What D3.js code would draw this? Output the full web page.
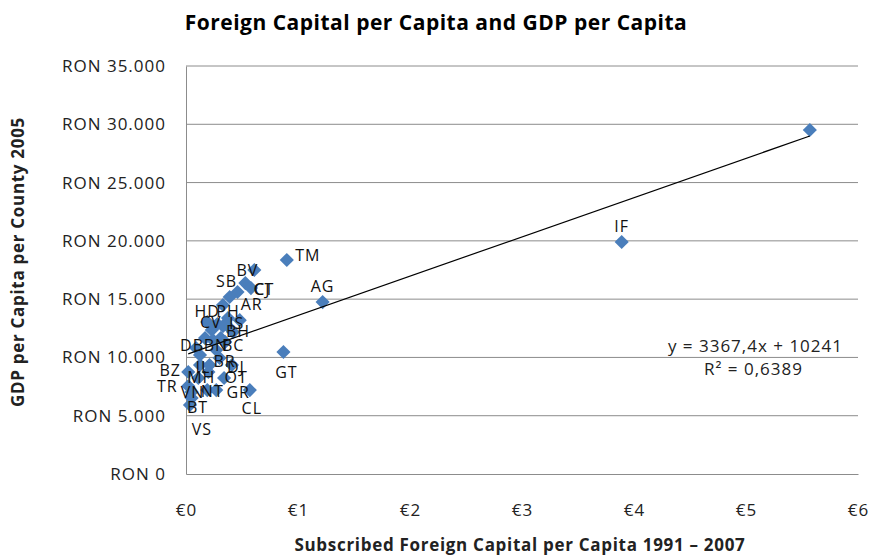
<!DOCTYPE html>
<html>
<head>
<meta charset="utf-8">
<script src="https://cdn.jsdelivr.net/npm/d3@7"></script>
<style>
  body { margin: 0; background: #fff; }
  text { font-family: "Open Sans", sans-serif; }
</style>
</head>
<body>
<div id="chart"></div>
<script>
// County codes, subscribed foreign capital per capita (EUR), GDP per capita (RON)
const counties = ["B", "IF", "AG", "TM", "GT", "CL", "BV", "CJ", "CT", "SB", "AR",
  "HD", "PH", "CV", "IS", "BH", "DB", "BN", "BC", "BR", "DJ", "IL", "MH", "OT",
  "VN", "NT", "GR", "BZ", "TR", "BT", "VS",
  "MS", "SJ", "HR", "AB", "CS", "SM", "MM", "SV", "TL", "VL"];
const capital = [5.57, 3.89, 1.22, 0.90, 0.87, 0.57, 0.61, 0.53, 0.58, 0.46, 0.39,
  0.19, 0.375, 0.23, 0.39, 0.42, 0.09, 0.24, 0.35, 0.30, 0.41, 0.125, 0.11, 0.34,
  0.05, 0.19, 0.27, 0.02, 0.02, 0.05, 0.035,
  0.33, 0.28, 0.33, 0.48, 0.17, 0.31, 0.27, 0.125, 0.21, 0.20];
const gdp = [29510, 19900, 14750, 18360, 10465, 7200, 17500, 16380, 15950, 15610, 15180,
  13040, 13380, 12350, 12520, 12180, 10810, 11490, 11320, 9950, 9350, 9350, 8235, 8235,
  7030, 7200, 7200, 8750, 7550, 6520, 5920,
  14500, 12870, 12690, 13200, 11660, 11660, 10640, 10210, 9350, 8750];
// counties shown with a data label
const labelled = ["IF", "AG", "TM", "GT", "CL", "BV", "CJ", "CT", "SB", "AR",
  "HD", "PH", "CV", "IS", "BH", "DB", "BN", "BC", "BR", "DJ", "IL", "MH", "OT",
  "VN", "NT", "GR", "BZ", "TR", "BT", "VS"];

const xTicks = [0, 1, 2, 3, 4, 5, 6];
const yTicks = [0, 5000, 10000, 15000, 20000, 25000, 30000, 35000];
const slope = 3367.4;
const intercept = 10241;
const eqText = "y = 3367,4x + 10241";
const r2Text = "R\u00B2 = 0,6389";

const data = counties.map((c, i) => ({ county: c, x: capital[i], y: gdp[i] }));

const width = 873;
const height = 555;
const margin = { top: 66, right: 15, bottom: 81, left: 186 };

const svg = d3.select("#chart")
  .append("svg")
  .attr("width", width)
  .attr("height", height);

const x = d3.scaleLinear().domain([0, 6]).range([margin.left, width - margin.right]);
const y = d3.scaleLinear().domain([0, 35000]).range([height - margin.bottom, margin.top]);

// gridlines
svg.append("g")
  .selectAll("line")
  .data(yTicks.slice(1))
  .enter()
  .append("line")
  .attr("x1", x(0))
  .attr("x2", x(6))
  .attr("y1", (d) => y(d))
  .attr("y2", (d) => y(d))
  .attr("stroke", "#8c8c8c")
  .attr("stroke-width", 1);

// axes
const fmt = (d) => "RON " + (d === 0 ? "0" : d3.format(",")(d).replace(/,/g, "."));

const yAxis = svg.append("g")
  .attr("transform", `translate(${x(0)},0)`)
  .call(d3.axisLeft(y).tickValues(yTicks).tickFormat(fmt).tickSize(0).tickPadding(20));
yAxis.select(".domain").attr("stroke", "#8c8c8c");
yAxis.selectAll("text").attr("font-size", 17).attr("fill", "#222")
  .style("letter-spacing", "1px")
  .style("font-family", "Open Sans, sans-serif");

const xAxis = svg.append("g")
  .attr("transform", `translate(0,${y(0)})`)
  .call(d3.axisBottom(x).tickValues(xTicks).tickFormat((d) => "\u20AC" + d).tickSize(0).tickPadding(30));
xAxis.select(".domain").attr("stroke", "#8c8c8c");
xAxis.selectAll("text").attr("font-size", 17).attr("fill", "#222")
  .style("letter-spacing", "1px")
  .style("font-family", "Open Sans, sans-serif");

// markers
const diamond = d3.symbol().type(d3.symbolSquare).size(100);
svg.append("g")
  .selectAll("path")
  .data(data)
  .enter()
  .append("path")
  .attr("d", diamond)
  .attr("transform", (d) => `translate(${x(d.x)},${y(d.y)}) rotate(45)`)
  .attr("fill", "#4a7ebb");

// linear trendline
const xMin = d3.min(capital);
const xMax = d3.max(capital);
svg.append("line")
  .attr("x1", x(xMin))
  .attr("y1", y(slope * xMin + intercept))
  .attr("x2", x(xMax))
  .attr("y2", y(slope * xMax + intercept))
  .attr("stroke", "#000")
  .attr("stroke-width", 1.2);

// data label offsets in pixels
const offsets = {
  IF: [0, -16], AG: [0, -16], TM: [21, -5], GT: [3, 20], CL: [2, 18],
  BV: [-7, 0], CJ: [17, 6], CT: [13, 1], SB: [-11, -11], AR: [22, 7],
  HD: [0, -11], PH: [0, -7], CV: [-1, -8], IS: [7, -5], BH: [5, -1],
  DB: [-4, -3], BN: [3, 5], BC: [8, 3], BR: [5, 3], DJ: [4, 2],
  IL: [3, 2], MH: [3, -1], OT: [12, -1], VN: [1, 0], NT: [5, 1],
  GR: [22, 2], BZ: [-18, -2], TR: [-21, 0], BT: [6, 9], VS: [12, 24]
};

svg.append("g")
  .selectAll("text")
  .data(data.filter((d) => labelled.includes(d.county)))
  .enter()
  .append("text")
  .attr("x", (d) => x(d.x) + offsets[d.county][0])
  .attr("y", (d) => y(d.y) + offsets[d.county][1])
  .attr("dy", "0.35em")
  .attr("text-anchor", "middle")
  .attr("font-size", 16)
  .style("letter-spacing", "1px")
  .attr("fill", "#111")
  .text((d) => d.county);

// trendline equation
svg.append("text")
  .attr("x", 843)
  .attr("y", 352)
  .attr("text-anchor", "end")
  .attr("font-size", 17)
  .style("letter-spacing", "1px")
  .attr("fill", "#222")
  .text(eqText);
svg.append("text")
  .attr("x", 803)
  .attr("y", 375)
  .attr("text-anchor", "end")
  .attr("font-size", 17)
  .style("letter-spacing", "1px")
  .attr("fill", "#222")
  .text(r2Text);

// titles
svg.append("text")
  .attr("x", 436)
  .attr("y", 30)
  .attr("text-anchor", "middle")
  .attr("font-size", 21)
  .attr("font-weight", "bold")
  .style("letter-spacing", "0.5px")
  .text("Foreign Capital per Capita and GDP per Capita");

svg.append("text")
  .attr("x", 520)
  .attr("y", 551)
  .attr("text-anchor", "middle")
  .attr("font-size", 17)
  .attr("font-weight", "bold")
  .style("letter-spacing", "0.7px")
  .attr("fill", "#222")
  .text("Subscribed Foreign Capital per Capita 1991 \u2013 2007");

svg.append("text")
  .attr("transform", "translate(24,262) rotate(-90)")
  .attr("text-anchor", "middle")
  .attr("font-size", 17)
  .attr("font-weight", "bold")
  .style("letter-spacing", "0.7px")
  .attr("fill", "#222")
  .text("GDP per Capita per County 2005");
</script>
</body>
</html>
